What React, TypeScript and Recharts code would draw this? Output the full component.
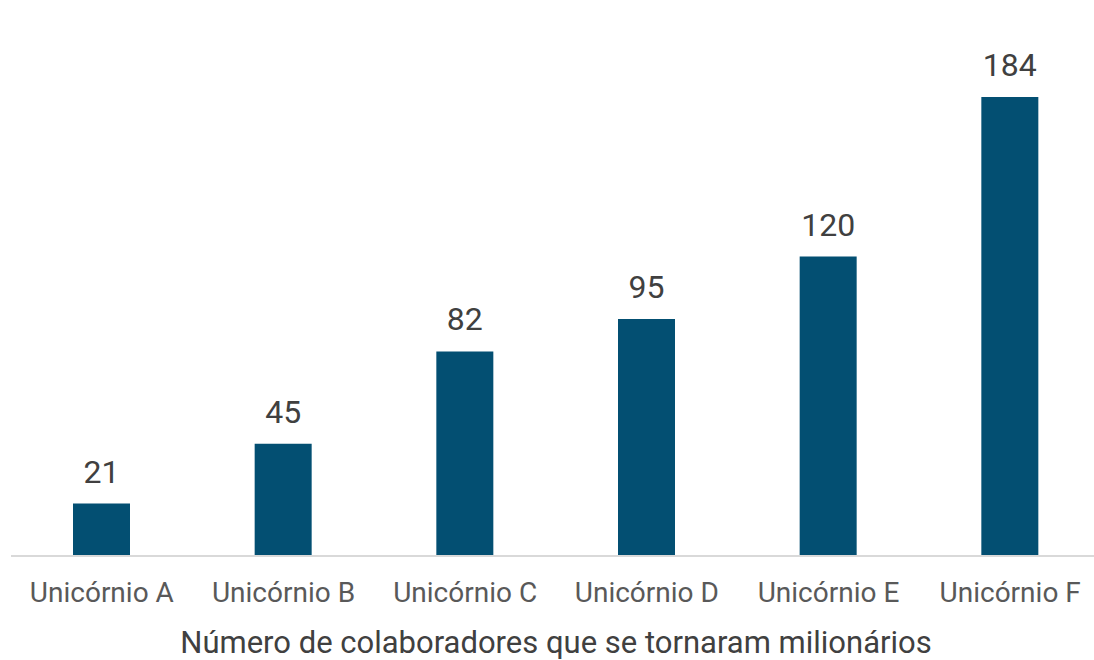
import { BarChart, Bar, XAxis, YAxis, LabelList, Label } from 'recharts';

const categories = ['Unicórnio A', 'Unicórnio B', 'Unicórnio C', 'Unicórnio D', 'Unicórnio E', 'Unicórnio F'];
const milionarios = [21, 45, 82, 95, 120, 184];

const data = categories.map((name, i) => ({ name, value: milionarios[i] }));

export default function App() {
  return (
    <div style={{ position: 'absolute', left: 0, top: 0, width: 1094, height: 660, background: '#fff', overflow: 'hidden' }}>
      <BarChart
        width={1094}
        height={660}
        data={data}
        margin={{ top: 57, right: -7, bottom: 0, left: 11 }}
        style={{ fontFamily: 'Roboto, sans-serif' }}
      >
        <YAxis hide domain={[0, 200]} />
        <XAxis
          dataKey="name"
          height={104}
          tickLine={false}
          axisLine={{ stroke: '#d9d9d9', strokeWidth: 2 }}
          tick={{ fontSize: 28, fill: '#595959' }}
          tickMargin={20}
          interval={0}
        >
          <Label
            value="Número de colaboradores que se tornaram milionários"
            position="insideBottom"
            offset={7}
            style={{ fontSize: 31, fill: '#404040' }}
          />
        </XAxis>
        <Bar dataKey="value" fill="#034f72" barSize={57} isAnimationActive={false}>
          <LabelList dataKey="value" position="top" offset={21} style={{ fontSize: 32, fill: '#404040' }} />
        </Bar>
      </BarChart>
    </div>
  );
}
